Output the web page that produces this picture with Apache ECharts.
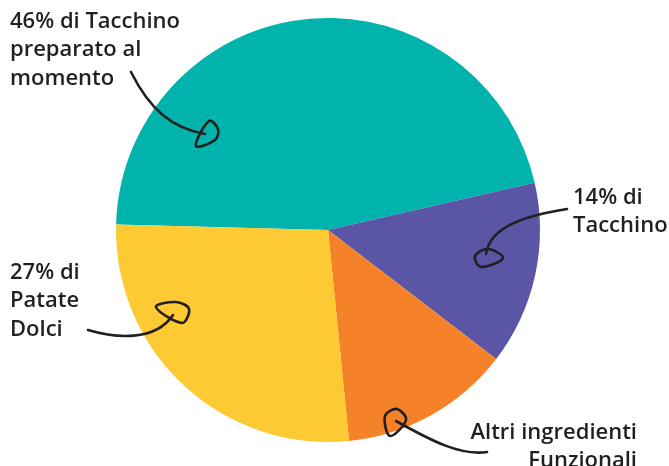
<!DOCTYPE html>
<html>
<head>
<meta charset="utf-8">
<script src="https://cdn.jsdelivr.net/npm/echarts@6/dist/echarts.min.js"></script>
<style>
  html, body { margin: 0; padding: 0; background: #fff; }
  #chart { width: 669px; height: 466px; }
</style>
</head>
<body>
<div id="chart"></div>
<script>
var sliceNames = ['46% di Tacchino\npreparato al\nmomento', '14% di\nTacchino', 'Altri ingredienti\nFunzionali', '27% di\nPatate\nDolci'];
var sliceValues = [46, 14, 13, 27];
var sliceColors = ['#00b3ad', '#5a55a4', '#f58229', '#fdca33'];

// where each hand placed label sits
var labelSpots = [
  { x: 10, y: 7, align: 'left' },
  { x: 573, y: 183, align: 'left' },
  { x: 637, y: 418, align: 'right' },
  { x: 10, y: 258, align: 'left' }
];

// hand drawn arrows (decoration): curve [x1,y1,cpx1,cpy1,cpx2,cpy2,x2,y2] + loop head
var arrowCurves = [
  [131, 72, 150, 110, 172, 128, 205, 134],
  [567, 209, 530, 215, 490, 225, 486, 254],
  [88, 330, 115, 338, 155, 342, 173, 315],
  [487, 452, 460, 456, 430, 440, 396, 421]
];
var arrowHeads = [
  [[196, 146], [209, 121], [218, 129], [215, 140]],
  [[475, 256], [488, 249], [503, 258], [481, 267]],
  [[156, 307], [176, 302], [189, 309], [182, 323]],
  [[390, 436], [385, 416], [397, 409], [406, 420]]
];

var chart = echarts.init(document.getElementById('chart'));

var pieData = sliceNames.map(function (n, i) {
  return { name: n, value: sliceValues[i], itemStyle: { color: sliceColors[i] } };
});

var inkStyle = { fill: null, stroke: '#231f20', lineWidth: 2.6, lineCap: 'round', lineJoin: 'round' };
var graphics = [];
arrowCurves.forEach(function (c, i) {
  graphics.push({
    type: 'bezierCurve',
    shape: { x1: c[0], y1: c[1], cpx1: c[2], cpy1: c[3], cpx2: c[4], cpy2: c[5], x2: c[6], y2: c[7] },
    style: inkStyle,
    z: 10
  });
  graphics.push({
    type: 'polygon',
    shape: { points: arrowHeads[i], smooth: 0.35 },
    style: inkStyle,
    z: 10
  });
});

var option = {
  animation: false,
  series: [{
    type: 'pie',
    center: [328, 230],
    radius: [0, 212],
    startAngle: 178.5,
    clockwise: true,
    data: pieData,
    label: {
      show: true,
      position: 'outside',
      formatter: '{b}',
      color: '#231f20',
      fontFamily: 'Open Sans',
      fontWeight: 600,
      fontSize: 22,
      lineHeight: 28.5,
      overflow: 'none'
    },
    labelLine: { show: false },
    labelLayout: function (params) {
      var s = labelSpots[params.dataIndex];
      return { x: s.x, y: s.y, align: s.align, verticalAlign: 'top', moveOverlap: null, hideOverlap: false };
    },
    emphasis: { disabled: true }
  }],
  graphic: graphics
};

chart.setOption(option);
</script>
</body>
</html>
